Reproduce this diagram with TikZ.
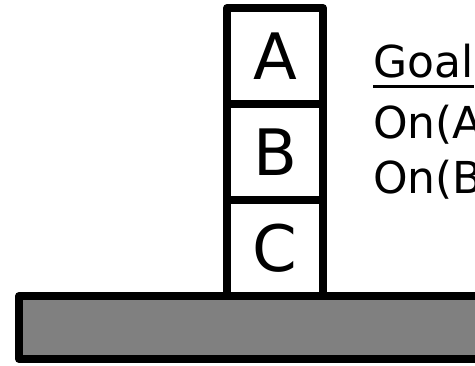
\documentclass[tikz,border=0pt]{standalone}
\usepackage{fontspec}
\newfontfamily\diagfont{DejaVu Sans}
\usetikzlibrary{positioning}

\begin{document}
\begin{tikzpicture}[
  x=1pt, y=1pt,
  block/.style={draw, line width=8pt, line join=round, outer sep=0pt,
              inner sep=0pt, minimum width=96pt, minimum height=96pt,
              fill=white, font=\diagfont\fontsize{64}{64}\selectfont},
  tabletop/.style={draw, line width=8pt, line join=round, fill=black!50},
  goaltext/.style={anchor=base west, inner sep=0pt,
              font=\diagfont\fontsize{44}{44}\selectfont},
]
\useasboundingbox (0,0) rectangle (475,365);

% Table
\draw[tabletop] (19,6) rectangle (530,69);

% Stack of blocks
\node[block] (A) at (275,309) {A};
\node[block, below=0pt of A] (B) {B};
\node[block, below=0pt of B] (C) {C};

% Goal description
\node[goaltext] (goal) at (373,287) {Goal};
\node[goaltext] (onA) at (373,226) {On(A};
\node[goaltext] (onB) at (373,171) {On(B};
\draw[line width=3pt] ([yshift=-9pt]goal.base west) -- ([yshift=-9pt]goal.base east);

\end{tikzpicture}
\end{document}
